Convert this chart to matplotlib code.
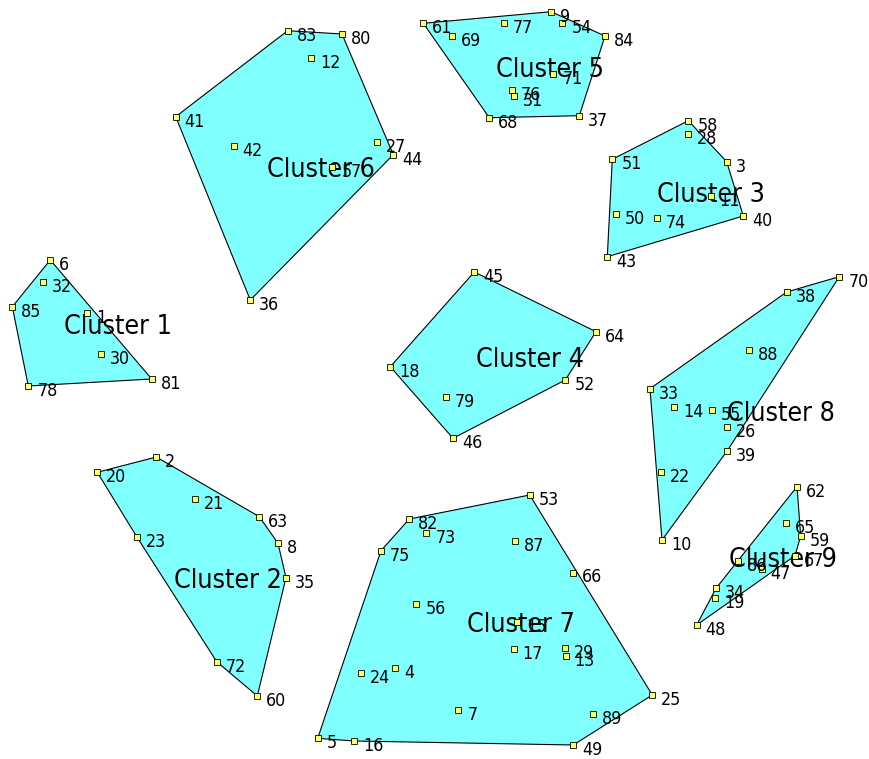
import numpy as np
import matplotlib.pyplot as plt

# point ids, positions (picture pixels, y down) and cluster of each point
ids = [61, 69, 77, 9, 54, 84, 71, 76, 31, 68, 37,
       58, 28, 51, 3, 11, 50, 74, 40, 43,
       62, 65, 59, 67, 86, 47, 34, 19, 48,
       83, 80, 12, 41, 42, 27, 44, 57, 36,
       70, 38, 88, 33, 14, 55, 26, 39, 22, 10,
       6, 32, 85, 1, 30, 81, 78,
       15, 17, 29, 13, 7, 89, 25, 49, 53, 82, 73, 87, 75, 56, 4, 24, 5, 16, 66,
       2, 20, 21, 63, 23, 8, 35, 72, 60,
       45, 64, 18, 52, 79, 46]
xs = [423.3, 452.3, 503.7, 551.0, 562.3, 605.0, 553.3, 511.7, 513.7, 489.3, 579.3,
      688.3, 688.3, 612.3, 726.7, 710.7, 615.7, 656.7, 743.3, 607.3,
      797.0, 785.7, 800.7, 795.0, 738.3, 761.7, 716.0, 715.3, 696.7,
      287.7, 342.0, 311.0, 175.7, 233.7, 376.7, 393.3, 332.3, 250.3,
      839.3, 786.7, 749.0, 650.0, 674.3, 711.7, 727.3, 727.3, 661.3, 662.0,
      50.3, 43.3, 12.3, 87.3, 100.7, 151.7, 28.3,
      517.3, 513.7, 565.0, 565.7, 458.3, 593.3, 652.3, 573.3, 529.7, 409.3, 426.3, 515.3, 381.0, 416.3, 395.3, 361.3, 317.7, 354.3, 573.0,
      156.3, 97.3, 194.7, 259.3, 136.7, 278.0, 286.0, 216.7, 257.3,
      474.3, 596.0, 390.3, 565.3, 446.0, 453.0]
ys = [23.3, 36.0, 22.7, 11.7, 23.3, 36.0, 74.0, 90.0, 95.7, 117.7, 115.7,
      120.7, 134.3, 159.3, 161.7, 196.0, 213.7, 218.3, 216.0, 256.7,
      486.7, 523.3, 536.0, 555.7, 560.7, 569.0, 588.3, 598.0, 625.0,
      30.7, 34.0, 57.7, 116.7, 145.7, 141.7, 154.7, 167.3, 300.0,
      276.7, 292.0, 350.0, 388.7, 406.7, 410.0, 426.7, 450.7, 471.7, 540.0,
      260.0, 282.3, 306.7, 313.3, 354.3, 379.0, 386.0,
      621.7, 649.0, 647.7, 656.0, 710.0, 714.0, 695.0, 745.0, 495.0, 519.0, 533.0, 541.0, 550.7, 604.0, 667.7, 672.7, 738.3, 741.0, 572.5,
      457.0, 472.3, 499.0, 516.7, 536.7, 543.3, 577.7, 661.7, 696.0,
      272.0, 331.7, 366.7, 380.0, 396.7, 438.3]
cluster = ([5] * 11 + [3] * 9 + [9] * 9 + [6] * 9 + [8] * 10 + [1] * 7
           + [7] * 19 + [2] * 9 + [4] * 6)

cluster_names = ['Cluster 1', 'Cluster 2', 'Cluster 3', 'Cluster 4', 'Cluster 5',
                 'Cluster 6', 'Cluster 7', 'Cluster 8', 'Cluster 9']
name_x = [64, 174, 657, 476, 496, 267, 467, 727, 729]
name_y = [327, 581, 195, 360, 70, 170, 625, 414, 560]

xs = np.array(xs)
ys = np.array(ys)
cluster = np.array(cluster)


def hull(pts):
    # monotone chain convex hull
    pts = sorted(map(tuple, pts))
    def cross(o, a, b):
        return (a[0] - o[0]) * (b[1] - o[1]) - (a[1] - o[1]) * (b[0] - o[0])
    lower, upper = [], []
    for p in pts:
        while len(lower) >= 2 and cross(lower[-2], lower[-1], p) <= 0:
            lower.pop()
        lower.append(p)
    for p in reversed(pts):
        while len(upper) >= 2 and cross(upper[-2], upper[-1], p) <= 0:
            upper.pop()
        upper.append(p)
    return np.array(lower[:-1] + upper[:-1])


fig = plt.figure(figsize=(8.69, 7.59), dpi=100)
ax = fig.add_axes([0, 0, 1, 1])
ax.set_xlim(0, 869)
ax.set_ylim(759, 0)
ax.axis('off')

font = dict(family='DejaVu Sans', stretch='condensed')

for c in range(1, 10):
    m = cluster == c
    h = hull(np.column_stack([xs[m], ys[m]]))
    ax.fill(h[:, 0], h[:, 1], facecolor='#80ffff', edgecolor='black', lw=0.8, zorder=1)
    ax.text(name_x[c - 1], name_y[c - 1], cluster_names[c - 1], fontsize=19.3,
            ha='left', va='center', zorder=2, **font)

ax.plot(xs, ys, 's', ms=4, mfc='#ffff66', mec='black', mew=0.6, zorder=3)
for i, x, y in zip(ids, xs, ys):
    ax.text(x + 9, y + 5, str(i), fontsize=12.8, ha='left', va='center', zorder=4, **font)

plt.savefig('out.png')
